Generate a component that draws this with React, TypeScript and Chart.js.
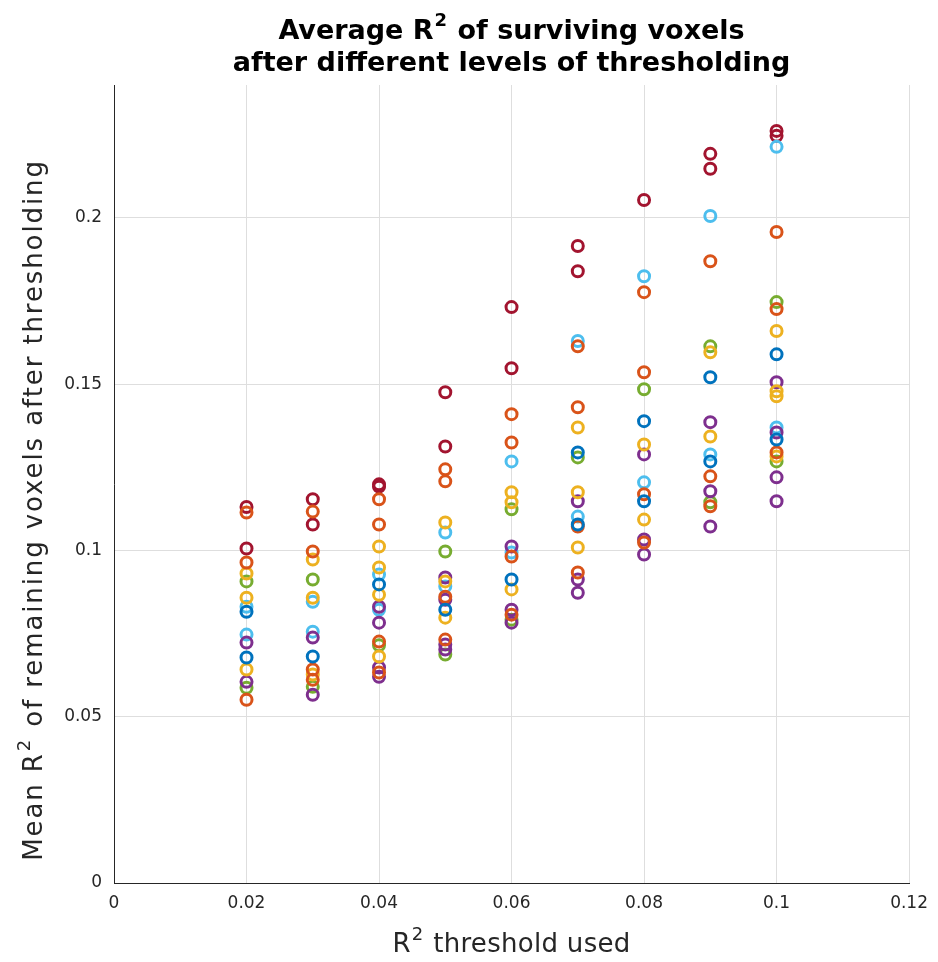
import React, { useEffect, useRef } from "react";
import { Chart, registerables } from "chart.js";

Chart.register(...registerables);

const thresholds = [0.02, 0.03, 0.04, 0.05, 0.06, 0.07, 0.08, 0.09, 0.1];
const xTicks = [0, 0.02, 0.04, 0.06, 0.08, 0.1, 0.12];
const yTicks = [0, 0.05, 0.1, 0.15, 0.2];

const titleLine1 = [{ t: "Average R" }, { t: "2", sup: true }, { t: " of surviving voxels" }];
const titleLine2 = [{ t: "after different levels of thresholding" }];
const xLabel = [{ t: "R" }, { t: "2", sup: true }, { t: " threshold used" }];
const yLabel = [{ t: "Mean R" }, { t: "2", sup: true }, { t: " of remaining voxels after thresholding" }];

const blueVals = [
  [0.0816, 0.0678], [0.0681], [0.0898], [0.0822], [0.0913],
  [0.1295, 0.1078], [0.1389, 0.1148], [0.1521, 0.1268], [0.159, 0.1334],
];
const orangeVals = [
  [0.1114, 0.0964, 0.0551], [0.1117, 0.0997, 0.0642, 0.0611], [0.1154, 0.1078, 0.0726, 0.0633],
  [0.1244, 0.1208, 0.0861, 0.0732], [0.141, 0.1325, 0.0982, 0.0807], [0.1614, 0.1431, 0.1072, 0.0934],
  [0.1777, 0.1536, 0.1169, 0.1024], [0.187, 0.1223, 0.1133], [0.1958, 0.1726, 0.1295],
];
const yellowVals = [
  [0.0931, 0.0858, 0.0642], [0.0973, 0.0858, 0.0627], [0.1012, 0.0949, 0.0867, 0.0681],
  [0.1084, 0.0907, 0.0798], [0.1175, 0.1145, 0.0883], [0.137, 0.1175, 0.1009],
  [0.1319, 0.1093], [0.1596, 0.1343], [0.166, 0.1479, 0.1464, 0.1283],
];
const purpleVals = [
  [0.0723, 0.0605], [0.0738, 0.0566], [0.0831, 0.0783, 0.0648, 0.062],
  [0.0919, 0.0852, 0.0717, 0.0702], [0.1012, 0.0822, 0.0783], [0.1148, 0.0913, 0.0873],
  [0.1289, 0.1033, 0.0988], [0.1386, 0.1178, 0.1072], [0.1506, 0.1355, 0.122, 0.1148],
];
const greenVals = [
  [0.0907, 0.0587], [0.0913, 0.059], [0.0715], [0.0997, 0.0687], [0.1124, 0.0792],
  [0.128], [0.1485], [0.1614, 0.1145], [0.1747, 0.1268],
];
const lightBlueVals = [
  [0.0831, 0.0747], [0.0846, 0.0756], [0.0928, 0.0822], [0.1054, 0.0892], [0.1268, 0.0994],
  [0.163, 0.1102], [0.1825, 0.1205], [0.2006, 0.1289], [0.2214, 0.137],
];
const darkRedVals = [
  [0.1131, 0.1006], [0.1154, 0.1078], [0.1199, 0.1192], [0.1476, 0.1313], [0.1732, 0.1548],
  [0.1916, 0.184], [0.2054], [0.2193, 0.2148], [0.2262, 0.2247],
];

const seriesList = [
  { name: "blue", color: "#0072BD", vals: blueVals },
  { name: "orange", color: "#D95319", vals: orangeVals },
  { name: "yellow", color: "#EDB120", vals: yellowVals },
  { name: "purple", color: "#7E2F8E", vals: purpleVals },
  { name: "green", color: "#77AC30", vals: greenVals },
  { name: "lightblue", color: "#4DBEEE", vals: lightBlueVals },
  { name: "darkred", color: "#A2142F", vals: darkRedVals },
];

const FONT = "'DejaVu Sans', sans-serif";

type Seg = { t: string; sup?: boolean };

function drawRich(
  ctx: CanvasRenderingContext2D,
  segs: Seg[],
  cx: number,
  cy: number,
  size: number,
  weight: string,
  color: string,
  rotate: number,
  spacing: number
) {
  ctx.save();
  ctx.translate(cx, cy);
  ctx.rotate(rotate);
  ctx.fillStyle = color;
  ctx.textBaseline = "middle";
  ctx.textAlign = "left";
  (ctx as any).letterSpacing = spacing + "px";
  const supSize = Math.round(size * 0.68);
  const widths = segs.map((s) => {
    ctx.font = `${weight} ${s.sup ? supSize : size}px ${FONT}`;
    return ctx.measureText(s.t).width + (s.sup ? 2 : 0);
  });
  const total = widths.reduce((a, b) => a + b, 0);
  let x = -total / 2;
  segs.forEach((s, i) => {
    ctx.font = `${weight} ${s.sup ? supSize : size}px ${FONT}`;
    ctx.fillText(s.t, x + (s.sup ? 1 : 0), s.sup ? -size * 0.38 : 0);
    x += widths[i];
  });
  ctx.restore();
}

const textPlugin = {
  id: "richText",
  afterDraw(chart: any) {
    const ctx = chart.ctx as CanvasRenderingContext2D;
    const a = chart.chartArea;
    const mid = (a.left + a.right) / 2;
    drawRich(ctx, titleLine1, mid, 32, 27, "bold", "#000000", 0, 0);
    drawRich(ctx, titleLine2, mid, 64, 27, "bold", "#000000", 0, 0);
    drawRich(ctx, xLabel, mid, 945, 26, "normal", "#262626", 0, 0.3);
    drawRich(ctx, yLabel, 35, 510, 26, "normal", "#262626", -Math.PI / 2, 1.9);
  },
};

export default function App() {
  const ref = useRef<HTMLCanvasElement | null>(null);

  useEffect(() => {
    document.body.style.margin = "0";
    const canvas = ref.current;
    if (!canvas) return;
    const datasets = seriesList.map((s) => ({
      label: s.name,
      data: s.vals.flatMap((col, i) => col.map((v) => ({ x: thresholds[i], y: v }))),
      borderColor: s.color,
      backgroundColor: "rgba(0,0,0,0)",
      pointRadius: 5.5,
      pointBorderWidth: 3,
      pointHoverRadius: 5.5,
      showLine: false,
    }));
    const chart = new Chart(canvas, {
      type: "scatter",
      data: { datasets },
      plugins: [textPlugin],
      options: {
        animation: false,
        responsive: false,
        maintainAspectRatio: false,
        layout: { padding: { left: 0, right: 28, top: 85, bottom: 0 } },
        plugins: {
          legend: { display: false },
          tooltip: { enabled: false },
          title: { display: false },
        },
        scales: {
          x: {
            type: "linear",
            min: 0,
            max: 0.12,
            afterBuildTicks: (scale: any) => {
              scale.ticks = xTicks.map((v) => ({ value: v }));
            },
            afterFit: (scale: any) => {
              scale.height = 79;
            },
            ticks: {
              color: "#262626",
              font: { family: FONT, size: 17 },
              padding: 10,
              maxRotation: 0,
              callback: (v: any) => String(v),
            },
            grid: { color: "#dedede", drawTicks: false, lineWidth: 1 },
            border: { display: true, color: "#262626", width: 1 },
          },
          y: {
            type: "linear",
            min: 0,
            max: 0.24,
            afterBuildTicks: (scale: any) => {
              scale.ticks = yTicks.map((v) => ({ value: v }));
            },
            afterFit: (scale: any) => {
              scale.width = 114;
            },
            ticks: {
              color: "#262626",
              font: { family: FONT, size: 17 },
              padding: 12,
              callback: (v: any) => String(v),
            },
            grid: { color: "#dedede", drawTicks: false, lineWidth: 1 },
            border: { display: true, color: "#262626", width: 1 },
          },
        },
      },
    } as any);
    return () => chart.destroy();
  }, []);

  return (
    <div style={{ width: 938, height: 962 }}>
      <canvas ref={ref} width={938} height={962} style={{ display: "block", width: 938, height: 962 }} />
    </div>
  );
}
